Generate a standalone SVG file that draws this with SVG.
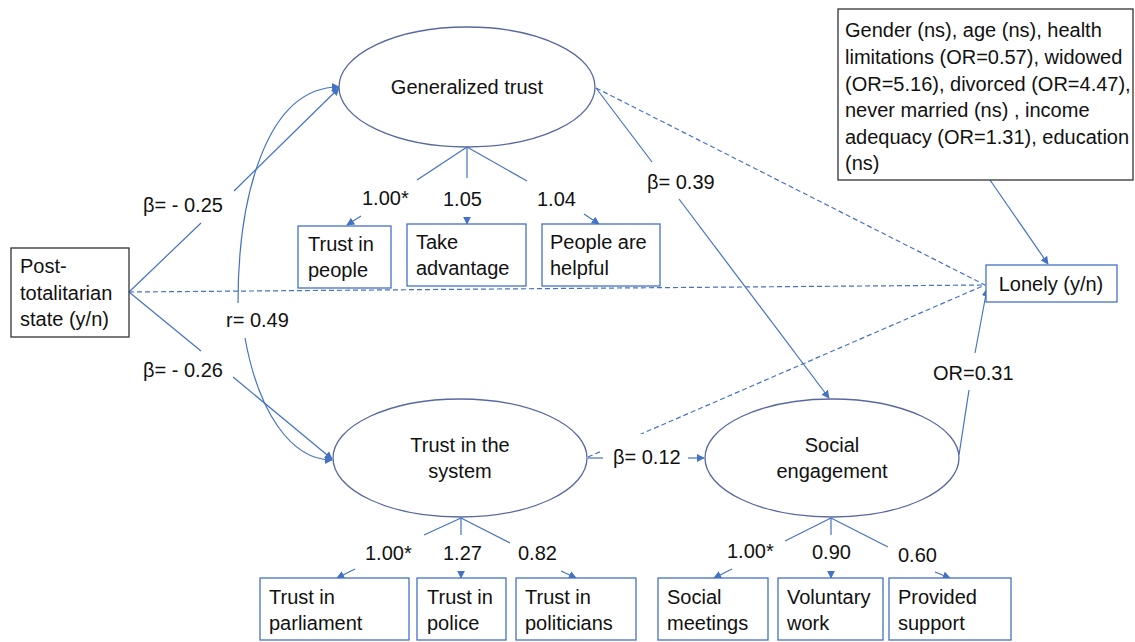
<svg xmlns="http://www.w3.org/2000/svg" width="1135" height="642" viewBox="0 0 1135 642">
<defs>
<marker id="ah" viewBox="0 0 10 10" refX="9" refY="5" markerWidth="8" markerHeight="8" markerUnits="userSpaceOnUse" orient="auto-start-reverse">
<path d="M0,0 L10,5 L0,10 z" fill="#4472C4"/>
</marker>
<style>
text{font-family:"Liberation Sans",Arial,sans-serif;font-size:20px;fill:#111}
.ell{fill:#fff;stroke:#5868A0;stroke-width:1.3}
.box{fill:#fff;stroke:#4472C4;stroke-width:1.3}
.kbox{fill:#fff;stroke:#333;stroke-width:1.3}
.ln{fill:none;stroke:#4472C4;stroke-width:1.2}
.ds{fill:none;stroke:#4472C4;stroke-width:1.2;stroke-dasharray:5 3}
</style>
</defs>
<rect width="1135" height="642" fill="#fff"/>

<g id="connectors">
<!-- dashed to Lonely -->
<line class="ds" x1="129" y1="292" x2="985" y2="285"/>
<line class="ds" x1="596" y1="88" x2="985" y2="285"/>
<line class="ds" x1="588" y1="457" x2="985" y2="285"/>
<rect x="600" y="434" width="90" height="36" fill="#fff"/>
<!-- Post -> Generalized trust -->
<line class="ln" x1="129" y1="292" x2="201" y2="223"/>
<line class="ln" x1="234" y1="191" x2="339" y2="88" marker-end="url(#ah)"/>
<!-- Post -> Trust in system -->
<line class="ln" x1="129" y1="292" x2="201" y2="351"/>
<line class="ln" x1="233" y1="377" x2="332" y2="459" marker-end="url(#ah)"/>
<!-- r correlation -->
<path class="ln" d="M238,303 C238,200 265,87 339,87" marker-end="url(#ah)"/>
<path class="ln" d="M245,338 C258,410 290,460 332,460" marker-end="url(#ah)"/>
<!-- beta 0.39 -->
<line class="ln" x1="596" y1="88" x2="652" y2="162"/>
<line class="ln" x1="679" y1="199" x2="829" y2="398" marker-end="url(#ah)"/>
<!-- beta 0.12 -->
<line class="ln" x1="588" y1="458" x2="603" y2="458"/>
<line class="ln" x1="688" y1="458" x2="704" y2="458" marker-end="url(#ah)"/>
<!-- OR 0.31 -->
<line class="ln" x1="959" y1="455" x2="969" y2="390"/>
<line class="ln" x1="975" y1="353" x2="987" y2="289" marker-end="url(#ah)"/>
<!-- covariates -> Lonely -->
<line class="ln" x1="990" y1="180" x2="1048" y2="264" marker-end="url(#ah)"/>
<!-- Generalized trust indicators -->
<line class="ln" x1="467" y1="147" x2="417" y2="180"/>
<line class="ln" x1="467" y1="147" x2="467" y2="178"/>
<line class="ln" x1="467" y1="147" x2="527" y2="181"/>
<line class="ln" x1="361" y1="216" x2="347" y2="225" marker-end="url(#ah)"/>
<line class="ln" x1="467" y1="217" x2="467" y2="224" marker-end="url(#ah)"/>
<line class="ln" x1="584" y1="214" x2="599" y2="224" marker-end="url(#ah)"/>
<!-- Trust in system indicators -->
<line class="ln" x1="461" y1="518" x2="424" y2="535"/>
<line class="ln" x1="461" y1="518" x2="461" y2="535"/>
<line class="ln" x1="461" y1="518" x2="510" y2="543"/>
<line class="ln" x1="355" y1="569" x2="337" y2="578" marker-end="url(#ah)"/>
<line class="ln" x1="461" y1="571" x2="461" y2="578" marker-end="url(#ah)"/>
<line class="ln" x1="561" y1="571" x2="576" y2="578" marker-end="url(#ah)"/>
<!-- Social engagement indicators -->
<line class="ln" x1="831" y1="518" x2="785" y2="541"/>
<line class="ln" x1="831" y1="518" x2="831" y2="535"/>
<line class="ln" x1="831" y1="518" x2="888" y2="547"/>
<line class="ln" x1="732" y1="569" x2="714" y2="578" marker-end="url(#ah)"/>
<line class="ln" x1="831" y1="571" x2="831" y2="578" marker-end="url(#ah)"/>
<line class="ln" x1="935" y1="572" x2="950" y2="578" marker-end="url(#ah)"/>
</g>

<g id="labels">
<text x="143" y="212">β= - 0.25</text>
<text x="143" y="377">β= - 0.26</text>
<text x="226" y="327">r= 0.49</text>
<text x="647" y="189">β= 0.39</text>
<text x="613" y="464">β= 0.12</text>
<text x="933" y="380">OR=0.31</text>
<text x="362" y="205">1.00*</text>
<text x="443" y="206">1.05</text>
<text x="537" y="206">1.04</text>
<text x="365" y="560">1.00*</text>
<text x="443" y="560">1.27</text>
<text x="518" y="560">0.82</text>
<text x="727" y="558">1.00*</text>
<text x="812" y="559">0.90</text>
<text x="898" y="562">0.60</text>
</g>

<g id="post">
<rect class="kbox" x="11" y="248" width="118" height="89"/>
<text x="20" y="273">Post-</text>
<text x="20" y="300">totalitarian</text>
<text x="20" y="326">state (y/n)</text>
</g>

<g id="gentrust">
<ellipse class="ell" cx="467" cy="87" rx="128" ry="60"/>
<text x="467" y="94" text-anchor="middle">Generalized trust</text>
</g>

<g id="systrust">
<ellipse class="ell" cx="460" cy="458" rx="127" ry="59"/>
<text x="460" y="452" text-anchor="middle">Trust in the</text>
<text x="460" y="478" text-anchor="middle">system</text>
</g>

<g id="social">
<ellipse class="ell" cx="832" cy="458" rx="127" ry="59"/>
<text x="832" y="452" text-anchor="middle">Social</text>
<text x="832" y="478" text-anchor="middle">engagement</text>
</g>

<g id="covariates">
<rect class="kbox" x="838" y="9" width="295" height="171"/>
<text x="845" y="37">Gender (ns), age (ns), health</text>
<text x="845" y="64">limitations (OR=0.57), widowed</text>
<text x="845" y="91">(OR=5.16), divorced (OR=4.47),</text>
<text x="845" y="117">never married (ns) , income</text>
<text x="845" y="144">adequacy (OR=1.31), education</text>
<text x="845" y="170">(ns)</text>
</g>

<g id="lonely">
<rect class="box" x="986" y="265" width="131" height="37"/>
<text x="1051" y="291" text-anchor="middle">Lonely (y/n)</text>
</g>

<g id="trustpeople">
<rect class="box" x="298" y="226" width="93" height="62"/>
<text x="308" y="251">Trust in</text>
<text x="308" y="277">people</text>
</g>
<g id="takeadv">
<rect class="box" x="407" y="224" width="119" height="62"/>
<text x="416" y="249">Take</text>
<text x="416" y="275">advantage</text>
</g>
<g id="helpful">
<rect class="box" x="542" y="224" width="118" height="62"/>
<text x="550" y="249">People are</text>
<text x="550" y="275">helpful</text>
</g>

<g id="parliament">
<rect class="box" x="260" y="578" width="149" height="62"/>
<text x="269" y="604">Trust in</text>
<text x="269" y="630">parliament</text>
</g>
<g id="police">
<rect class="box" x="417" y="578" width="89" height="62"/>
<text x="427" y="604">Trust in</text>
<text x="427" y="630">police</text>
</g>
<g id="politicians">
<rect class="box" x="516" y="578" width="120" height="62"/>
<text x="525" y="604">Trust in</text>
<text x="525" y="630">politicians</text>
</g>
<g id="meetings">
<rect class="box" x="658" y="578" width="110" height="62"/>
<text x="667" y="604">Social</text>
<text x="667" y="630">meetings</text>
</g>
<g id="voluntary">
<rect class="box" x="778" y="578" width="105" height="62"/>
<text x="787" y="604">Voluntary</text>
<text x="787" y="630">work</text>
</g>
<g id="support">
<rect class="box" x="889" y="578" width="122" height="62"/>
<text x="898" y="604">Provided</text>
<text x="898" y="630">support</text>
</g>
</svg>
